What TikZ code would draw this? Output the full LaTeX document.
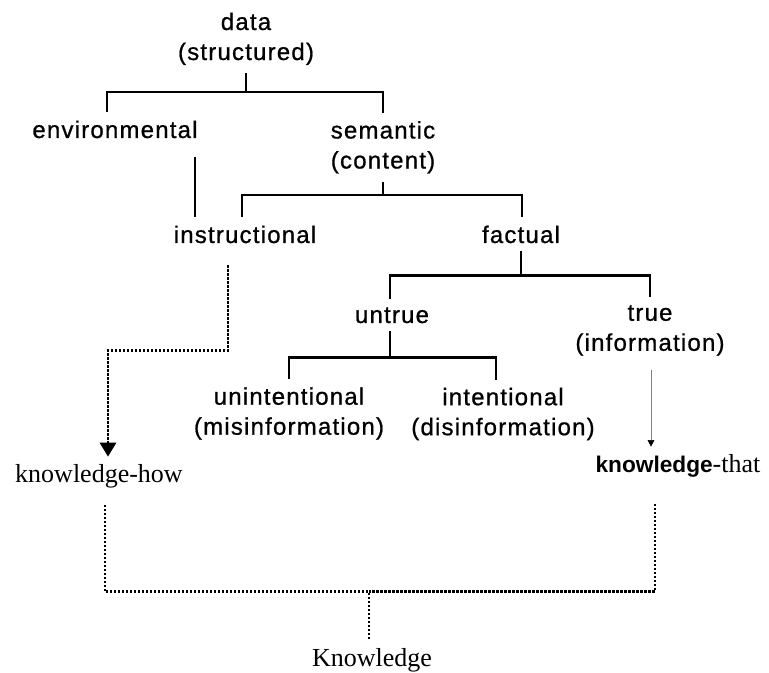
\documentclass[tikz,border=0pt]{standalone}
\usepackage{fontspec}
\setmainfont{Liberation Serif}
\newfontfamily\lblfont[LetterSpace=5,FakeBold=0.8]{Liberation Sans}
\newfontfamily\kfont{Liberation Sans}
\usetikzlibrary{arrows.meta,calc}
\begin{document}
\begin{tikzpicture}[x=0.75pt,y=-0.75pt,
  lbl/.style={font=\lblfont\fontsize{18}{22.5}\selectfont, align=center, inner xsep=0pt, inner ysep=6pt},
  ser/.style={font=\fontsize{19.5}{24}\selectfont, inner xsep=0pt, inner ysep=6pt},
  tree/.style={line width=1.8pt},
  thintree/.style={line width=1.3pt},
  dotline/.style={line width=2.2pt, dash pattern=on 1.7pt off 1.3pt}]
\useasboundingbox (0,0) rectangle (769,673);

% nodes
\node[lbl] (data) at (246,38.8) {data\\(structured)};
\node[lbl,anchor=base] (env) at (115,138) {environmental};
\node[lbl] (sem) at (383,147.3) {semantic\\(content)};
\node[lbl,anchor=base] (instr) at (245,243) {instructional};
\node[lbl,anchor=base] (fact) at (521,243) {factual};
\node[lbl,anchor=base] (untrue) at (392,323) {untrue};
\node[lbl] (true) at (650,330.5) {true\\(information)};
\node[lbl] (unint) at (289,413.5) {unintentional\\(misinformation)};
\node[lbl] (int) at (503,414) {intentional\\(disinformation)};
\node[ser,anchor=base] (kh) at (99,483) {knowledge-how};
\node[ser,anchor=base] (kt) at (678,473) {{\kfont\bfseries\fontsize{17}{22}\selectfont knowledge}-that};
\node[ser,anchor=base] (kn) at (372,667) {Knowledge};

% tree connectors
\draw[tree] (data.south) -- ++(0,19) coordinate (b1);
\draw[tree] ($(env.north)+(-8,0)$) |- (b1) -| (sem.north);
\draw[thintree] ($(env.south east)+(-3,11)$) coordinate (e1) -- (e1 |- instr.north);
\draw[tree] (sem.south) -- ++(0,13) coordinate (b2);
\draw[tree] ($(instr.north)+(-3,0)$) |- (b2) -| ($(fact.north)+(1,0)$);
\draw[tree] (fact.south) -- ++(0,24) coordinate (b3);
\draw[tree] ($(untrue.north)+(-2,0)$) |- (b3) -| (true.north);
\draw[tree] ($(untrue.south)+(-2,0)$) -- ++(0,26) coordinate (b4);
\draw[tree] (unint.north) |- (b4) -| ($(int.north)+(-7,0)$);

% knowledge connectors
\draw[dotline,-{Triangle[width=12pt,length=10.5pt]}] ($(instr.south)+(-17,14)$) -- ++(0,85) -| ($(kh.north)+(9,0)$);
\draw[gray,line width=0.5pt,-{Triangle[black,width=5pt,length=5pt]}] ($(true.south)+(1,6)$) coordinate (t1) -- (t1 |- kt.north);
\coordinate (kb) at ($(kn.north)+(-3,-49)$);
\draw[dotline] ($(kh.south)+(6,8)$) |- (kb) -- ($(kn.north)+(-3,0)$);
\draw[dotline] ($(kt.south)+(-23,18)$) |- (kb);
\end{tikzpicture}
\end{document}
